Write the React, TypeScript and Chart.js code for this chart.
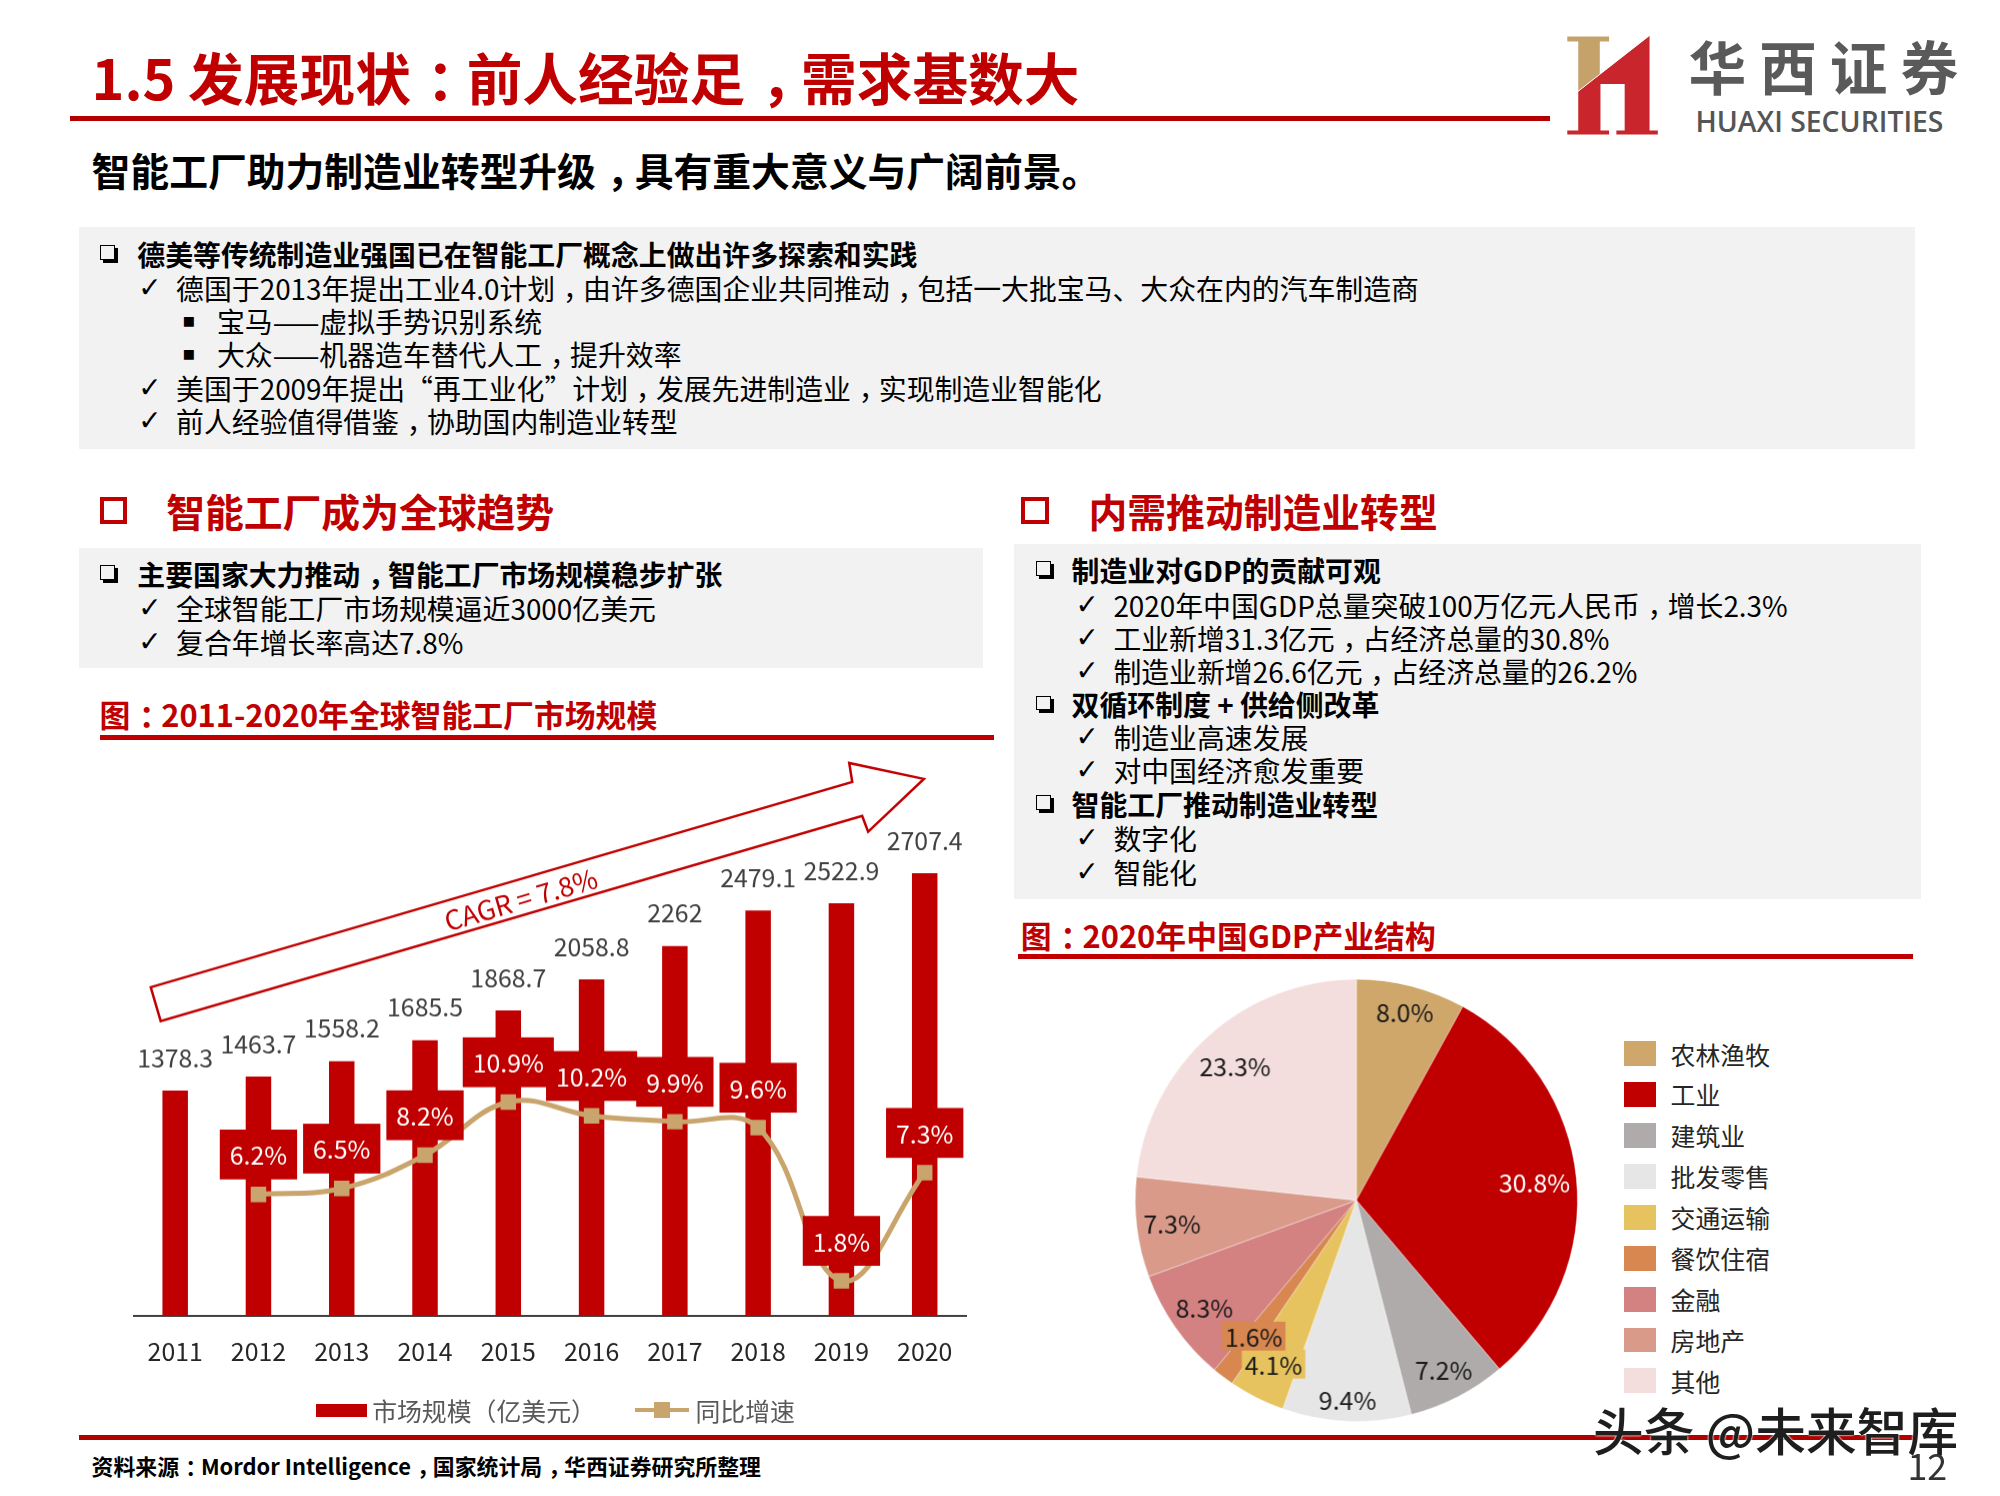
import React, { useEffect, useRef } from "react";
import { Chart, registerables } from "chart.js";

Chart.register(...registerables);

// ---------------- data ----------------
const years = ["2011", "2012", "2013", "2014", "2015", "2016", "2017", "2018", "2019", "2020"];
const marketSize = [1378.3, 1463.7, 1558.2, 1685.5, 1868.7, 2058.8, 2262, 2479.1, 2522.9, 2707.4];
const growthRate: (number | null)[] = [null, 6.2, 6.5, 8.2, 10.9, 10.2, 9.9, 9.6, 1.8, 7.3];
const barSeriesName = "市场规模（亿美元）";
const lineSeriesName = "同比增速";
const cagrText = "CAGR = 7.8%";

const sectors = ["农林渔牧", "工业", "建筑业", "批发零售", "交通运输", "餐饮住宿", "金融", "房地产", "其他"];
const sectorShares = [8.0, 30.8, 7.2, 9.4, 4.1, 1.6, 8.3, 7.3, 23.3];

// ---------------- styles ----------------
const K = 0.995;
const S = (v: number) => v * K;
const FONT = "'Noto Sans CJK SC', 'Noto Sans', sans-serif";
const RED = "#C00000";
const GOLD = "#C9A46C";
const sectorColors = ["#CFA76A", "#C00000", "#AFABAB", "#E7E6E6", "#E6C35E", "#D7874F", "#D48182", "#D99A8A", "#F3DEDD"];
const sectorLabelColors = ["#1a1a1a", "#ffffff", "#1a1a1a", "#1a1a1a", "#1a1a1a", "#1a1a1a", "#1a1a1a", "#1a1a1a", "#1a1a1a"];
const sectorLabelBoxed = [false, false, false, false, true, true, false, false, false];
const sectorLabelRadius = [0.88, 0.81, 0.86, 0.9, 0.83, 0.77, 0.84, 0.84, 0.82];

// ---------------- plugins ----------------
const barDecorPlugin = {
  id: "barDecor",
  afterDatasetsDraw(chart: any) {
    const ctx = chart.ctx as CanvasRenderingContext2D;
    const barMeta = chart.getDatasetMeta(0);
    const lineMeta = chart.getDatasetMeta(1);
    ctx.save();
    ctx.font = `${S(25)}px ${FONT}`;
    ctx.textAlign = "center";
    ctx.textBaseline = "middle";
    // bar value labels
    ctx.fillStyle = "#404040";
    barMeta.data.forEach((el: any, i: number) => {
      ctx.fillText(String(marketSize[i]), el.x, el.y - S(33));
    });
    // growth labels in red boxes
    lineMeta.data.forEach((el: any, i: number) => {
      const v = growthRate[i];
      if (v == null) return;
      const txt = v.toFixed(1) + "%";
      const w = ctx.measureText(txt).width + S(20);
      const h = S(50);
      const bottom = el.y - S(15);
      ctx.fillStyle = RED;
      ctx.fillRect(el.x - w / 2, bottom - h, w, h);
      ctx.fillStyle = "#ffffff";
      ctx.fillText(txt, el.x, bottom - h / 2 + 1);
    });
    // CAGR arrow
    const pts = [
      [51, 232],
      [756, 26],
      [753, 7],
      [828, 23],
      [772, 76],
      [766, 60],
      [61, 266],
    ];
    ctx.beginPath();
    pts.forEach((p, i) => (i === 0 ? ctx.moveTo(S(p[0]), S(p[1])) : ctx.lineTo(S(p[0]), S(p[1]))));
    ctx.closePath();
    ctx.fillStyle = "#ffffff";
    ctx.fill();
    ctx.lineWidth = 2.5;
    ctx.strokeStyle = RED;
    ctx.lineJoin = "miter";
    ctx.stroke();
    ctx.translate(S(423), S(144));
    ctx.rotate(Math.atan2(-206, 705));
    ctx.fillStyle = RED;
    ctx.font = `${S(27)}px ${FONT}`;
    ctx.fillText(cagrText, 0, 0);
    ctx.restore();
  },
};

const pieLabelPlugin = {
  id: "pieLabels",
  afterDatasetsDraw(chart: any) {
    const ctx = chart.ctx as CanvasRenderingContext2D;
    const meta = chart.getDatasetMeta(0);
    ctx.save();
    ctx.font = `${S(25)}px ${FONT}`;
    ctx.textAlign = "center";
    ctx.textBaseline = "middle";
    meta.data.forEach((arc: any, i: number) => {
      const p = arc.getProps(["x", "y", "startAngle", "endAngle", "outerRadius"], true);
      const mid = (p.startAngle + p.endAngle) / 2;
      const r = p.outerRadius * sectorLabelRadius[i];
      const px = p.x + Math.cos(mid) * r;
      const py = p.y + Math.sin(mid) * r;
      const txt = sectorShares[i].toFixed(1) + "%";
      if (sectorLabelBoxed[i]) {
        const w = ctx.measureText(txt).width + S(6);
        ctx.fillStyle = sectorColors[i];
        ctx.fillRect(px - w / 2, py - S(14.5), w, S(29));
      }
      ctx.fillStyle = sectorLabelColors[i];
      ctx.fillText(txt, px, py + 1);
    });
    ctx.restore();
  },
};

// ---------------- charts ----------------
function BarLineChart() {
  const ref = useRef<HTMLCanvasElement | null>(null);
  useEffect(() => {
    if (!ref.current) return;
    const chart = new Chart(ref.current, {
      type: "bar",
      data: {
        labels: years,
        datasets: [
          {
            type: "bar",
            label: barSeriesName,
            data: marketSize,
            backgroundColor: RED,
            borderWidth: 0,
            yAxisID: "y",
            categoryPercentage: 1,
            barPercentage: 0.306,
            order: 1,
          } as any,
          {
            type: "line",
            label: lineSeriesName,
            data: growthRate,
            borderColor: GOLD,
            backgroundColor: GOLD,
            borderWidth: S(5),
            tension: 0.4,
            pointStyle: "rect",
            pointRadius: S(11),
            pointBorderWidth: 0,
            pointBackgroundColor: GOLD,
            yAxisID: "y1",
            order: 0,
          } as any,
        ],
      },
      options: {
        animation: false,
        responsive: true,
        maintainAspectRatio: false,
        layout: { padding: { left: S(33.7), right: S(29.3), top: S(69.5), bottom: S(6) } },
        plugins: { legend: { display: false }, tooltip: { enabled: false } },
        scales: {
          x: {
            grid: { display: false, drawTicks: false },
            border: { display: true, color: "#404040", width: 2 },
            ticks: {
              font: { size: S(25), family: FONT },
              color: "#262626",
              padding: S(21),
              maxRotation: 0,
              autoSkip: false,
            },
          },
          y: { display: false, min: 0, max: 3000 },
          y1: { display: false, min: 0, max: 25 },
        },
      },
      plugins: [barDecorPlugin],
    });
    return () => chart.destroy();
  }, []);
  return (
    <div style={{ position: "absolute", left: S(100), top: S(760), width: S(900), height: S(640) }}>
      <canvas ref={ref} />
    </div>
  );
}

function PieChart() {
  const ref = useRef<HTMLCanvasElement | null>(null);
  useEffect(() => {
    if (!ref.current) return;
    const chart = new Chart(ref.current, {
      type: "pie",
      data: {
        labels: sectors,
        datasets: [
          {
            data: sectorShares,
            backgroundColor: sectorColors,
            borderColor: "rgba(255,255,255,0.6)",
            borderWidth: 0.6,
          },
        ],
      },
      options: {
        animation: false,
        responsive: true,
        maintainAspectRatio: false,
        layout: { padding: S(21) },
        plugins: { legend: { display: false }, tooltip: { enabled: false } },
      },
      plugins: [pieLabelPlugin],
    });
    return () => chart.destroy();
  }, []);
  return (
    <div style={{ position: "absolute", left: S(1120), top: S(963), width: S(486), height: S(486) }}>
      <canvas ref={ref} />
    </div>
  );
}

// ---------------- layout helpers ----------------
// centre full-width comma / colon in their cells (as in the original slide font)
function punct(node: React.ReactNode): React.ReactNode {
  if (typeof node !== "string") return node;
  const parts = node.split(/([，：])/);
  return parts.map((p, i) =>
    p === "，" || p === "：" ? (
      <span key={i} style={{ position: "relative", left: "0.28em" }}>
        {p}
      </span>
    ) : (
      <React.Fragment key={i}>{p}</React.Fragment>
    )
  );
}

type TxtProps = {
  x: number;
  cy: number;
  size: number;
  weight?: number;
  color?: string;
  family?: string;
  spacing?: number;
  shadow?: string;
  children: React.ReactNode;
};
function Txt({ x, cy, size, weight = 400, color = "#000", family = FONT, spacing = 0, shadow, children }: TxtProps) {
  const fs = S(size);
  const lh = fs * 1.3;
  return (
    <div
      style={{
        position: "absolute",
        left: S(x),
        top: S(cy) - lh / 2,
        lineHeight: `${lh}px`,
        fontSize: fs,
        fontWeight: weight,
        color,
        fontFamily: family,
        whiteSpace: "nowrap",
        letterSpacing: S(spacing),
        textShadow: shadow,
      }}
    >
      {punct(children)}
    </div>
  );
}

function Box({ x, y, w, h, color }: { x: number; y: number; w: number; h: number; color: string }) {
  return <div style={{ position: "absolute", left: S(x), top: S(y), width: S(w), height: S(h), background: color }} />;
}

const SYM = "'DejaVu Sans', sans-serif";

function Heading({ bx, tx, cy, text }: { bx: number; tx: number; cy: number; text: string }) {
  return (
    <>
      <div
        style={{
          position: "absolute",
          left: S(bx),
          top: S(cy - 14),
          width: S(28),
          height: S(28),
          boxSizing: "border-box",
          border: `${S(5)}px solid ${RED}`,
        }}
      />
      <Txt x={tx} cy={cy} size={39} weight={700} color={RED}>
        {text}
      </Txt>
    </>
  );
}

function Bullet({ bx, tx, cy, text }: { bx: number; tx: number; cy: number; text: string }) {
  return (
    <>
      <div
        style={{
          position: "absolute",
          left: S(bx + 1),
          top: S(cy - 9),
          width: S(15),
          height: S(15),
          boxSizing: "border-box",
          border: `${S(2)}px solid #000`,
          boxShadow: `${S(3)}px ${S(3)}px 0 #000`,
        }}
      />
      <Txt x={tx} cy={cy} size={28} weight={700}>
        {text}
      </Txt>
    </>
  );
}

function Check({ bx, tx, cy, text }: { bx: number; tx: number; cy: number; text: string }) {
  return (
    <>
      <Txt x={bx - 2} cy={cy} size={28} family={SYM}>
        ✓
      </Txt>
      <Txt x={tx} cy={cy} size={28}>
        {text}
      </Txt>
    </>
  );
}

function Square({ bx, tx, cy, text }: { bx: number; tx: number; cy: number; text: string }) {
  return (
    <>
      <Txt x={bx} cy={cy} size={20} family={SYM}>
        ▪
      </Txt>
      <Txt x={tx} cy={cy} size={28}>
        {text}
      </Txt>
    </>
  );
}

function Logo() {
  return (
    <svg
      style={{ position: "absolute", left: S(1568), top: S(25) }}
      width={S(100)}
      height={S(120)}
      viewBox="0 0 300 360"
    >
      <polygon points="22,35 148,35 148,50 120,50 120,149 55,199.5 55,50 22,50" fill="#C4A26A" />
      <polygon
        points="55,199.5 270,32 270,318 295,318 295,330 170,330 170,318 195,318 195,178 122,178 122,318 148,318 148,330 22,330 22,318 55,318"
        fill="#C9252C"
      />
      <line x1="48" y1="205" x2="272" y2="30" stroke="#ffffff" strokeWidth="3" />
    </svg>
  );
}

export default function App() {
  const legendRows = sectors.map((s, i) => (
    <React.Fragment key={s}>
      <Box x={1632} y={1059 + i * 41.1 - 12.5} w={32} h={25} color={sectorColors[i]} />
      <Txt x={1679} cy={1059 + i * 41.1} size={25} color="#262626">
        {s}
      </Txt>
    </React.Fragment>
  ));
  return (
    <div
      style={{
        position: "absolute",
        left: 0,
        top: 0,
        width: 2000,
        height: 1496,
        background: "#ffffff",
        overflow: "hidden",
        fontFamily: FONT,
      }}
    >
      {/* header */}
      <Txt x={92} cy={77} size={56} weight={700} color={RED}>
        1.5 发展现状：前人经验足，需求基数大
      </Txt>
      <Box x={70} y={117} w={1488} h={5} color="#B40000" />
      <Logo />
      <Txt x={1697} cy={66} size={58} weight={700} color="#5a5a5a" spacing={13}>
        华西证券
      </Txt>
      <Txt x={1704} cy={122} size={28.5} weight={600} color="#555555" family="'Open Sans', sans-serif">
        HUAXI SECURITIES
      </Txt>
      <Txt x={92} cy={170} size={39} weight={700} color="#000">
        智能工厂助力制造业转型升级，具有重大意义与广阔前景。
      </Txt>

      {/* box 1 */}
      <Box x={79} y={228} w={1846} h={223} color="#F2F2F2" />
      <Bullet bx={100} tx={138} cy={255} text="德美等传统制造业强国已在智能工厂概念上做出许多探索和实践" />
      <Check bx={141} tx={177} cy={290} text="德国于2013年提出工业4.0计划，由许多德国企业共同推动，包括一大批宝马、大众在内的汽车制造商" />
      <Square bx={183} tx={218} cy={323} text="宝马——虚拟手势识别系统" />
      <Square bx={183} tx={218} cy={356} text="大众——机器造车替代人工，提升效率" />
      <Check bx={141} tx={177} cy={390} text="美国于2009年提出“再工业化”计划，发展先进制造业，实现制造业智能化" />
      <Check bx={141} tx={177} cy={423} text="前人经验值得借鉴，协助国内制造业转型" />

      {/* section headings */}
      <Heading bx={100} tx={167} cy={513} text="智能工厂成为全球趋势" />
      <Heading bx={1026} tx={1094} cy={513} text="内需推动制造业转型" />

      {/* box 2 */}
      <Box x={79} y={551} w={909} h={120} color="#F2F2F2" />
      <Bullet bx={100} tx={138} cy={577} text="主要国家大力推动，智能工厂市场规模稳步扩张" />
      <Check bx={141} tx={177} cy={611} text="全球智能工厂市场规模逼近3000亿美元" />
      <Check bx={141} tx={177} cy={645} text="复合年增长率高达7.8%" />

      {/* box 3 */}
      <Box x={1019} y={547} w={912} h={357} color="#F2F2F2" />
      <Bullet bx={1040} tx={1077} cy={573} text="制造业对GDP的贡献可观" />
      <Check bx={1083} tx={1119} cy={608} text="2020年中国GDP总量突破100万亿元人民币，增长2.3%" />
      <Check bx={1083} tx={1119} cy={641} text="工业新增31.3亿元，占经济总量的30.8%" />
      <Check bx={1083} tx={1119} cy={674} text="制造业新增26.6亿元，占经济总量的26.2%" />
      <Bullet bx={1040} tx={1077} cy={708} text="双循环制度 + 供给侧改革" />
      <Check bx={1083} tx={1119} cy={741} text="制造业高速发展" />
      <Check bx={1083} tx={1119} cy={774} text="对中国经济愈发重要" />
      <Bullet bx={1040} tx={1077} cy={808} text="智能工厂推动制造业转型" />
      <Check bx={1083} tx={1119} cy={842} text="数字化" />
      <Check bx={1083} tx={1119} cy={876} text="智能化" />

      {/* chart titles */}
      <Txt x={100} cy={718} size={31} weight={700} color={RED}>
        图：2011-2020年全球智能工厂市场规模
      </Txt>
      <Box x={100} y={739} w={899} h={5} color={RED} />
      <Txt x={1026} cy={940} size={31} weight={700} color={RED}>
        图：2020年中国GDP产业结构
      </Txt>
      <Box x={1023} y={959} w={900} h={5} color={RED} />

      {/* charts */}
      <BarLineChart />
      <PieChart />

      {/* bar legend */}
      <Box x={318} y={1411} w={51} h={13} color={RED} />
      <Txt x={374} cy={1417} size={25} color="#595959">
        {barSeriesName}
      </Txt>
      <Box x={638} y={1415} w={54} h={4} color={GOLD} />
      <Box x={657} y={1409} w={16} h={16} color={GOLD} />
      <Txt x={699} cy={1417} size={25} color="#595959">
        {lineSeriesName}
      </Txt>

      {/* pie legend */}
      {legendRows}

      {/* footer */}
      <Box x={79} y={1442} w={1844} h={5} color="#B00000" />
      <Txt x={92} cy={1474} size={22} weight={700} color="#000">
        资料来源：Mordor Intelligence，国家统计局，华西证券研究所整理
      </Txt>
      <Txt x={1601} cy={1437} size={51} weight={500} color="#1e1e1e" shadow="0 0 2px #fff, 0 0 2px #fff">
        头条 @未来智库
      </Txt>
      <Txt x={1917} cy={1472} size={36} color="#333333">
        12
      </Txt>
    </div>
  );
}
